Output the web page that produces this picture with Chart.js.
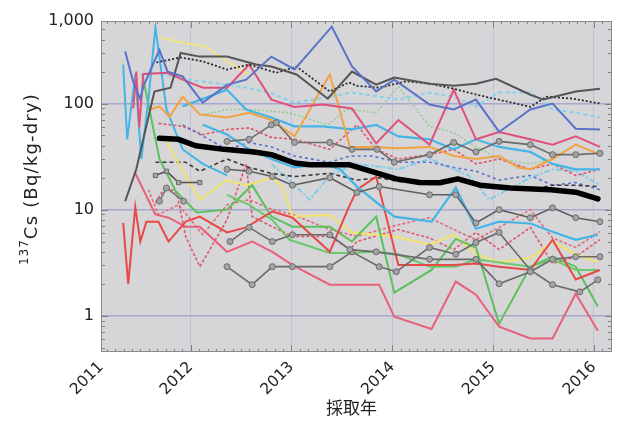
<!DOCTYPE html>
<html>
<head>
<meta charset="utf-8">
<script src="https://cdn.jsdelivr.net/npm/chart.js@4/dist/chart.umd.min.js"></script>
<style>
  html, body { margin: 0; padding: 0; background: #ffffff; }
  #wrap { width: 619px; height: 433px; }
</style>
</head>
<body>
<div id="wrap"><canvas id="chart" width="619" height="433"></canvas></div>
<script>
// 137Cs concentrations (Bq/kg-dry) per monitoring site: [decimal year, value]
const siteBlue = [[2011.35,310],[2011.43,160],[2011.50,110],[2011.53,145],[2011.69,320],[2011.77,200],[2011.92,180],[2012.12,102],[2012.36,150],[2012.55,168],[2012.80,277],[2013.03,210],[2013.40,530],[2013.60,224],[2013.84,130],[2014.02,168],[2014.37,98],[2014.61,88],[2014.83,109],[2015.06,54],[2015.37,88],[2015.59,100],[2015.82,58],[2016.06,57]];
const siteGrayA = [[2011.35,12],[2011.46,24],[2011.64,130],[2011.80,141],[2011.90,300],[2012.09,277],[2012.36,277],[2012.65,233],[2012.80,223],[2013.05,188],[2013.36,111],[2013.60,200],[2013.84,151],[2014.02,176],[2014.37,154],[2014.61,147],[2014.83,154],[2015.03,171],[2015.37,121],[2015.50,109],[2015.82,130],[2016.06,138]];
const siteDotted = [[2011.66,244],[2011.90,272],[2012.12,250],[2012.36,209],[2012.58,233],[2012.85,195],[2013.05,223],[2013.38,130],[2013.57,158],[2013.65,147],[2013.87,141],[2014.14,162],[2014.37,154],[2014.61,138],[2014.92,116],[2015.15,104],[2015.37,93],[2015.53,116],[2015.80,111],[2016.06,100]];
const sitePink = [[2011.43,90],[2011.46,200],[2011.49,60],[2011.53,190],[2011.77,195],[2011.92,168],[2012.12,141],[2012.36,141],[2012.58,233],[2012.80,109],[2013.03,93],[2013.31,98],[2013.60,90],[2013.84,42],[2014.06,70],[2014.37,41],[2014.61,135],[2014.83,46],[2015.06,54],[2015.37,46],[2015.59,41],[2015.82,49],[2016.06,39]];
const siteOrange = [[2011.60,88],[2011.69,94],[2011.79,75],[2011.92,116],[2012.09,79],[2012.36,74],[2012.58,82],[2012.80,70],[2013.03,49],[2013.38,188],[2013.58,39],[2013.82,39],[2014.06,38],[2014.37,39],[2014.61,32],[2014.83,30],[2015.06,32],[2015.25,25],[2015.37,24],[2015.59,30],[2015.82,41],[2016.06,33]];
const siteSky = [[2011.92,94],[2012.36,135],[2012.55,88],[2012.80,74],[2013.03,61],[2013.31,61],[2013.60,57],[2013.84,63],[2014.06,49],[2014.37,46],[2014.61,37],[2014.83,46],[2015.06,39],[2015.37,35],[2015.59,27],[2015.82,24],[2016.06,24]];
const siteSkyB = [[2012.12,63],[2012.36,51],[2012.58,37],[2012.80,30],[2013.03,25],[2013.31,27],[2013.48,24],[2013.65,16.5],[2014.02,8.6],[2014.39,7.7],[2014.63,16.1],[2014.83,6.6],[2015.06,7.7],[2015.37,7.4],[2015.59,6.2],[2015.82,5.2],[2016.04,5.8]];
const siteSkyC = [[2011.33,232],[2011.37,46],[2011.45,188],[2011.51,30],[2011.58,109],[2011.65,520],[2011.76,88],[2011.92,37],[2012.12,27],[2012.36,21]];
const siteCyanDash = [[2011.70,190],[2011.95,170],[2012.36,150],[2012.58,140],[2012.80,125],[2013.03,102],[2013.38,116],[2013.60,127],[2014.06,109],[2014.37,127],[2014.61,116],[2014.83,94],[2015.06,127],[2015.37,127],[2015.59,88],[2015.82,82],[2016.06,74]];
const siteCyanDot = [[2012.80,27],[2013.03,17],[2013.18,12.4],[2013.38,21],[2013.65,27],[2014.06,24],[2014.37,30],[2014.61,24],[2014.76,21],[2014.96,12.4],[2015.37,20],[2015.59,24],[2015.82,23],[2016.06,17]];
const siteGreenDot = [[2012.12,78],[2012.36,88],[2012.58,88],[2012.98,82],[2013.36,63],[2013.55,88],[2013.84,82],[2014.06,145],[2014.37,61],[2014.61,53],[2014.83,39],[2015.06,30],[2015.37,27],[2015.59,30]];
const siteYellowHigh = [[2011.66,427],[2011.92,375],[2012.15,344],[2012.36,249],[2012.58,188]];
const siteYellow = [[2011.76,43],[2012.09,12.4],[2012.36,19],[2012.55,17],[2012.80,20],[2012.91,16.5],[2013.01,8.6],[2013.38,8.9],[2013.60,6.1],[2013.84,5.8],[2014.06,5.5],[2014.37,4.7],[2014.61,5.8],[2014.83,3.8],[2015.06,3.2],[2015.37,3.5],[2015.59,5.0],[2015.82,3.8],[2016.04,3.2]];
const siteGreen = [[2011.52,188],[2011.69,30],[2011.85,15],[2012.06,9.4],[2012.36,10],[2012.61,17],[2012.80,8.6],[2013.01,6.9],[2013.38,6.9],[2013.60,5.0],[2013.84,8.6],[2014.02,1.65],[2014.39,2.7],[2014.63,5.3],[2014.83,4.4],[2015.06,0.84],[2015.37,2.9],[2015.59,3.6],[2015.82,2.9],[2016.04,1.22]];
const siteGreenB = [[2012.36,13.8],[2012.58,11.1],[2012.81,8.0],[2012.98,5.2],[2013.38,3.9],[2013.58,3.9],[2013.84,4.0],[2014.06,3.8],[2014.37,2.9],[2014.63,2.9],[2014.83,3.4],[2015.37,2.9],[2015.59,3.4],[2015.82,2.7],[2016.04,2.7]];
const siteRed = [[2011.33,7.5],[2011.38,2.0],[2011.45,10.6],[2011.50,5.0],[2011.56,7.7],[2011.68,7.7],[2011.78,5.0],[2011.95,7.7],[2012.09,8.6],[2012.36,6.1],[2012.55,6.8],[2012.81,9.6],[2013.01,8.4],[2013.38,4.0],[2013.57,10.6],[2013.65,15.4],[2013.84,20.5],[2014.06,3.0],[2014.37,3.0],[2014.61,3.0],[2014.83,3.1],[2015.06,2.9],[2015.37,2.7],[2015.59,5.2],[2015.82,2.2],[2016.06,2.7]];
const siteRose = [[2011.45,22],[2011.65,9.0],[2011.78,8.4],[2011.95,6.9],[2012.09,6.9],[2012.36,4.0],[2012.61,5.0],[2012.81,4.0],[2013.01,3.0],[2013.38,1.96],[2013.87,1.96],[2014.02,0.98],[2014.39,0.75],[2014.63,2.1],[2014.83,1.58],[2015.06,0.79],[2015.37,0.61],[2015.59,0.61],[2015.82,1.61],[2016.04,0.72]];
const siteGrayB = [[2012.36,2.9],[2012.61,1.96],[2012.81,2.9],[2013.01,2.9],[2013.38,2.9],[2013.60,4.0],[2013.87,2.9],[2014.04,2.6],[2014.37,4.4],[2014.63,3.8],[2014.83,4.9],[2015.06,6.1],[2015.37,2.7],[2015.59,1.96],[2015.86,1.68],[2016.04,2.18]];
const siteGrayC = [[2012.39,5.0],[2012.58,6.8],[2012.81,5.0],[2013.01,5.8],[2013.38,5.8],[2013.58,4.2],[2013.84,4.0],[2014.37,3.4],[2014.83,3.4],[2015.06,2.0],[2015.37,2.6],[2015.59,3.4],[2015.82,3.6],[2016.06,3.6]];
const siteGrayD = [[2012.36,24],[2012.58,23],[2012.81,20.5],[2013.01,17],[2013.38,20],[2013.65,14.5],[2013.87,16.5],[2014.37,13.8],[2014.63,13.8],[2014.83,7.5],[2015.06,10],[2015.37,8.4],[2015.59,10.4],[2015.82,8.4],[2016.06,7.7]];
const siteGrayE = [[2012.36,44],[2012.58,46],[2012.80,63],[2012.85,66],[2013.03,43],[2013.38,43],[2013.60,37],[2013.85,37],[2014.02,28],[2014.37,33],[2014.61,43],[2014.83,35],[2015.06,44],[2015.37,41],[2015.59,33],[2015.82,33],[2016.06,34]];
const siteGrayF = [[2011.69,12],[2011.76,16],[2011.93,12]];
const siteGraySq = [[2011.65,21],[2011.76,23],[2011.88,18],[2012.09,18]];
const siteRedDashA = [[2011.68,65],[2011.92,61],[2012.12,51],[2012.36,57],[2012.58,59],[2012.80,48],[2013.03,46],[2013.38,37],[2013.65,63],[2013.84,37],[2014.06,30],[2014.37,33],[2014.61,37],[2014.83,27],[2015.06,30],[2015.37,24],[2015.59,27],[2015.82,21],[2016.06,24]];
const siteRedDashB = [[2011.65,11.6],[2011.75,16.5],[2011.86,14.5],[2011.95,5.6],[2012.09,2.9],[2012.36,8.0],[2012.55,27],[2012.61,8.6],[2012.81,6.9],[2013.01,5.6],[2013.38,5.6],[2013.58,4.2],[2013.65,5.0],[2014.06,6.5],[2014.37,5.4],[2014.61,4.2],[2014.83,6.1],[2015.06,4.2],[2015.37,6.8],[2015.59,3.1],[2015.82,3.6],[2016.06,5.2]];
const siteRedDashC = [[2011.58,15.4],[2011.68,9.0],[2011.88,11.1],[2012.12,5.8],[2012.36,11.1],[2012.58,12.4],[2012.81,10],[2013.01,9.0],[2013.38,6.5],[2013.65,5.6],[2014.06,7.2],[2014.37,8.4],[2014.61,6.5],[2014.83,5.2],[2015.06,6.8],[2015.37,10],[2015.59,5.4],[2015.82,4.4],[2016.06,6.2]];
const siteBlueDash = [[2011.92,63],[2012.36,37],[2012.58,43],[2012.80,39],[2013.03,32],[2013.38,28],[2013.58,32],[2013.80,32],[2014.06,28],[2014.37,28],[2014.61,25],[2014.83,23],[2015.06,19],[2015.37,21],[2015.59,17],[2015.82,18],[2016.06,15.4]];
const siteBlackDash = [[2011.65,28],[2011.95,28],[2012.09,23],[2012.36,30],[2012.58,25],[2012.80,22],[2013.03,20.5],[2013.38,22],[2013.65,19],[2013.88,20],[2014.06,18.4],[2014.47,18],[2014.65,19],[2014.83,17],[2015.06,16],[2015.37,15.4],[2015.59,17],[2015.82,17],[2016.04,16.5]];
// Mean of all sites
const meanTrend = [[2011.69,47],[2011.88,46],[2012.05,40],[2012.33,37],[2012.63,35],[2012.80,33],[2013.03,27.5],[2013.18,26.5],[2013.57,26.5],[2014.04,19.5],[2014.27,18],[2014.47,17.9],[2014.65,19.5],[2014.87,17],[2015.17,16],[2015.57,15.4],[2015.82,14.6],[2016.04,12.6]];

// Axis tick labels
const yearLabels = ['2011', '2012', '2013', '2014', '2015', '2016'];
const yTickLabels = ['1', '10', '100', '1,000'];

const X_MIN = 2011.11, X_MAX = 2016.18;
const Y_MIN = 0.455, Y_MAX = 600;

const toPoints = pairs => pairs.map(([x, y]) => ({ x, y }));

// Line styles, drawn back to front
const seriesStyles = [
  { data: siteYellowHigh, color: '#f3e67a' },
  { data: siteGreenDot, color: '#8fd08f', dash: [2, 2] },
  { data: siteCyanDash, color: '#86d0ec', dash: [4, 3], width: 2 },
  { data: siteCyanDot, color: '#7fcbe8', dash: [6, 2, 2, 2], width: 2 },
  { data: siteRedDashA, color: '#e0566a', dash: [3, 2] },
  { data: siteRedDashB, color: '#e0566a', dash: [3, 2] },
  { data: siteRedDashC, color: '#e46a78', dash: [3, 2] },
  { data: siteBlueDash, color: '#5a72d0', dash: [3, 3] },
  { data: siteBlackDash, color: '#3a3a3a', dash: [4, 3] },
  { data: siteYellow, color: '#f2e36c', width: 2 },
  { data: siteGreen, color: '#5cc05c', width: 2 },
  { data: siteGreenB, color: '#6cc86c', width: 2 },
  { data: siteRose, color: '#e8607a', width: 2 },
  { data: siteRed, color: '#e84848', width: 2 },
  { data: siteSkyC, color: '#45b4e6', width: 2 },
  { data: siteSkyB, color: '#45b4e6', width: 2.2 },
  { data: siteSky, color: '#45b4e6', width: 2.2 },
  { data: siteOrange, color: '#f2a240', width: 2 },
  { data: sitePink, color: '#e0507a', width: 2 },
  { data: siteGrayB, color: '#6a6a6a', marker: true },
  { data: siteGrayC, color: '#6a6a6a', marker: true },
  { data: siteGrayD, color: '#5e5e5e', marker: true },
  { data: siteGrayE, color: '#6a6a6a', marker: true },
  { data: siteGrayF, color: '#707070', marker: true },
  { data: siteGraySq, color: '#505050', marker: true, square: true },
  { data: siteDotted, color: '#2a2a2a', dash: [2, 2], width: 1.8 },
  { data: siteGrayA, color: '#555555', width: 2 },
  { data: siteBlue, color: '#5a72c8', width: 2 }
];

const datasets = seriesStyles.map((s, i) => ({
  data: toPoints(s.data),
  borderColor: s.color,
  borderWidth: s.width || 1.6,
  borderDash: s.dash || [],
  pointRadius: s.marker ? 3 : 0,
  pointStyle: s.square ? 'rect' : 'circle',
  pointBackgroundColor: '#a4a4a4',
  pointBorderColor: '#6a6a6a',
  pointBorderWidth: 1,
  tension: 0,
  fill: false,
  order: seriesStyles.length - i + 1
}));

datasets.push({
  data: toPoints(meanTrend),
  borderColor: '#000000',
  borderWidth: 5.5,
  borderCapStyle: 'round',
  borderJoinStyle: 'round',
  pointRadius: 0,
  tension: 0,
  fill: false,
  order: 0
});

// Plot background, frame with minor ticks, and axis titles
const frame = {
  id: 'frame',
  beforeDraw(chart) {
    const { ctx, chartArea: a } = chart;
    ctx.save();
    ctx.fillStyle = '#d6d6d9';
    ctx.fillRect(a.left, a.top, a.right - a.left, a.bottom - a.top);
    ctx.restore();
  },
  afterDatasetsDraw(chart) {
    const { ctx, chartArea: a, scales } = chart;
    const xs = scales.x, ys = scales.y;
    ctx.save();
    ctx.strokeStyle = '#808080';
    ctx.lineWidth = 1;
    ctx.beginPath();
    for (let k = -1; k <= 2; k++) {
      for (let m = 1; m <= 9; m++) {
        const v = m * Math.pow(10, k);
        if (v <= Y_MIN || v >= Y_MAX) continue;
        const py = Math.round(ys.getPixelForValue(v)) + 0.5;
        const len = m === 1 ? 7 : 4;
        ctx.moveTo(a.left, py); ctx.lineTo(a.left + len, py);
        ctx.moveTo(a.right, py); ctx.lineTo(a.right - len, py);
      }
    }
    for (let yr = 2011; yr <= 2016; yr++) {
      for (let mo = 0; mo < 12; mo++) {
        const v = yr + mo / 12;
        if (v <= X_MIN || v >= X_MAX) continue;
        const px = Math.round(xs.getPixelForValue(v)) + 0.5;
        const len = mo === 0 ? 7 : 3;
        ctx.moveTo(px, a.bottom); ctx.lineTo(px, a.bottom - len);
        ctx.moveTo(px, a.top); ctx.lineTo(px, a.top + len);
      }
    }
    ctx.stroke();
    ctx.strokeStyle = '#8a8a8a';
    ctx.strokeRect(a.left + 0.5, a.top + 0.5, a.right - a.left - 1, a.bottom - a.top - 1);
    ctx.restore();
  },
  afterDraw(chart) {
    const { ctx, chartArea: a } = chart;
    ctx.save();
    ctx.fillStyle = '#222222';
    // x-axis title
    ctx.font = '17px "Noto Sans CJK JP", sans-serif';
    ctx.textAlign = 'center';
    ctx.textBaseline = 'middle';
    ctx.fillText('採取年', (a.left + a.right) / 2 - 5, 408);
    // y-axis title with superscript mass number
    ctx.translate(30, 179);
    ctx.rotate(-Math.PI / 2);
    ctx.textAlign = 'left';
    ctx.textBaseline = 'alphabetic';
    ctx.letterSpacing = '1px';
    ctx.font = '12px "DejaVu Sans", sans-serif';
    const sup = '137';
    const supW = ctx.measureText(sup).width;
    ctx.letterSpacing = '1.2px';
    ctx.font = '18px "DejaVu Sans", sans-serif';
    const main = 'Cs (Bq/kg-dry)';
    const mainW = ctx.measureText(main).width;
    const start = -(supW + mainW) / 2;
    ctx.fillText(main, start + supW, 6.5);
    ctx.letterSpacing = '1px';
    ctx.font = '12px "DejaVu Sans", sans-serif';
    ctx.fillText(sup, start, -2.5);
    ctx.restore();
  }
};

Chart.defaults.font.family = '"DejaVu Sans", sans-serif';

new Chart(document.getElementById('chart'), {
  type: 'line',
  data: { datasets },
  options: {
    responsive: false,
    animation: false,
    devicePixelRatio: 1,
    layout: { padding: { left: 0, right: 7, top: 21, bottom: 0 } },
    plugins: { legend: { display: false }, tooltip: { enabled: false } },
    scales: {
      x: {
        type: 'linear',
        min: X_MIN,
        max: X_MAX,
        afterBuildTicks: scale => {
          scale.ticks = [X_MIN, 2012, 2013, 2014, 2015, 2016].map(v => ({ value: v }));
        },
        afterFit: scale => { scale.height = 81; },
        ticks: {
          autoSkip: false,
          minRotation: 45,
          maxRotation: 45,
          padding: 6,
          color: '#222222',
          font: { size: 15.5 },
          callback: (value, index) => yearLabels[index]
        },
        grid: {
          drawTicks: false,
          lineWidth: 1,
          color: ctx => (ctx.index === 0 ? 'rgba(0,0,0,0)' : '#c2c2d6')
        },
        border: { display: false }
      },
      y: {
        type: 'logarithmic',
        min: Y_MIN,
        max: Y_MAX,
        afterBuildTicks: scale => {
          scale.ticks = [1, 10, 100, Y_MAX].map(v => ({ value: v }));
        },
        afterFit: scale => { scale.width = 101; },
        ticks: {
          padding: 7,
          color: '#222222',
          font: { size: 16 },
          callback: (value, index) => yTickLabels[index]
        },
        grid: {
          drawTicks: false,
          lineWidth: 1.5,
          color: ctx => (ctx.tick && ctx.tick.value === Y_MAX ? 'rgba(0,0,0,0)' : '#a8a8d0')
        },
        border: { display: false }
      }
    }
  },
  plugins: [frame]
});
</script>
</body>
</html>
